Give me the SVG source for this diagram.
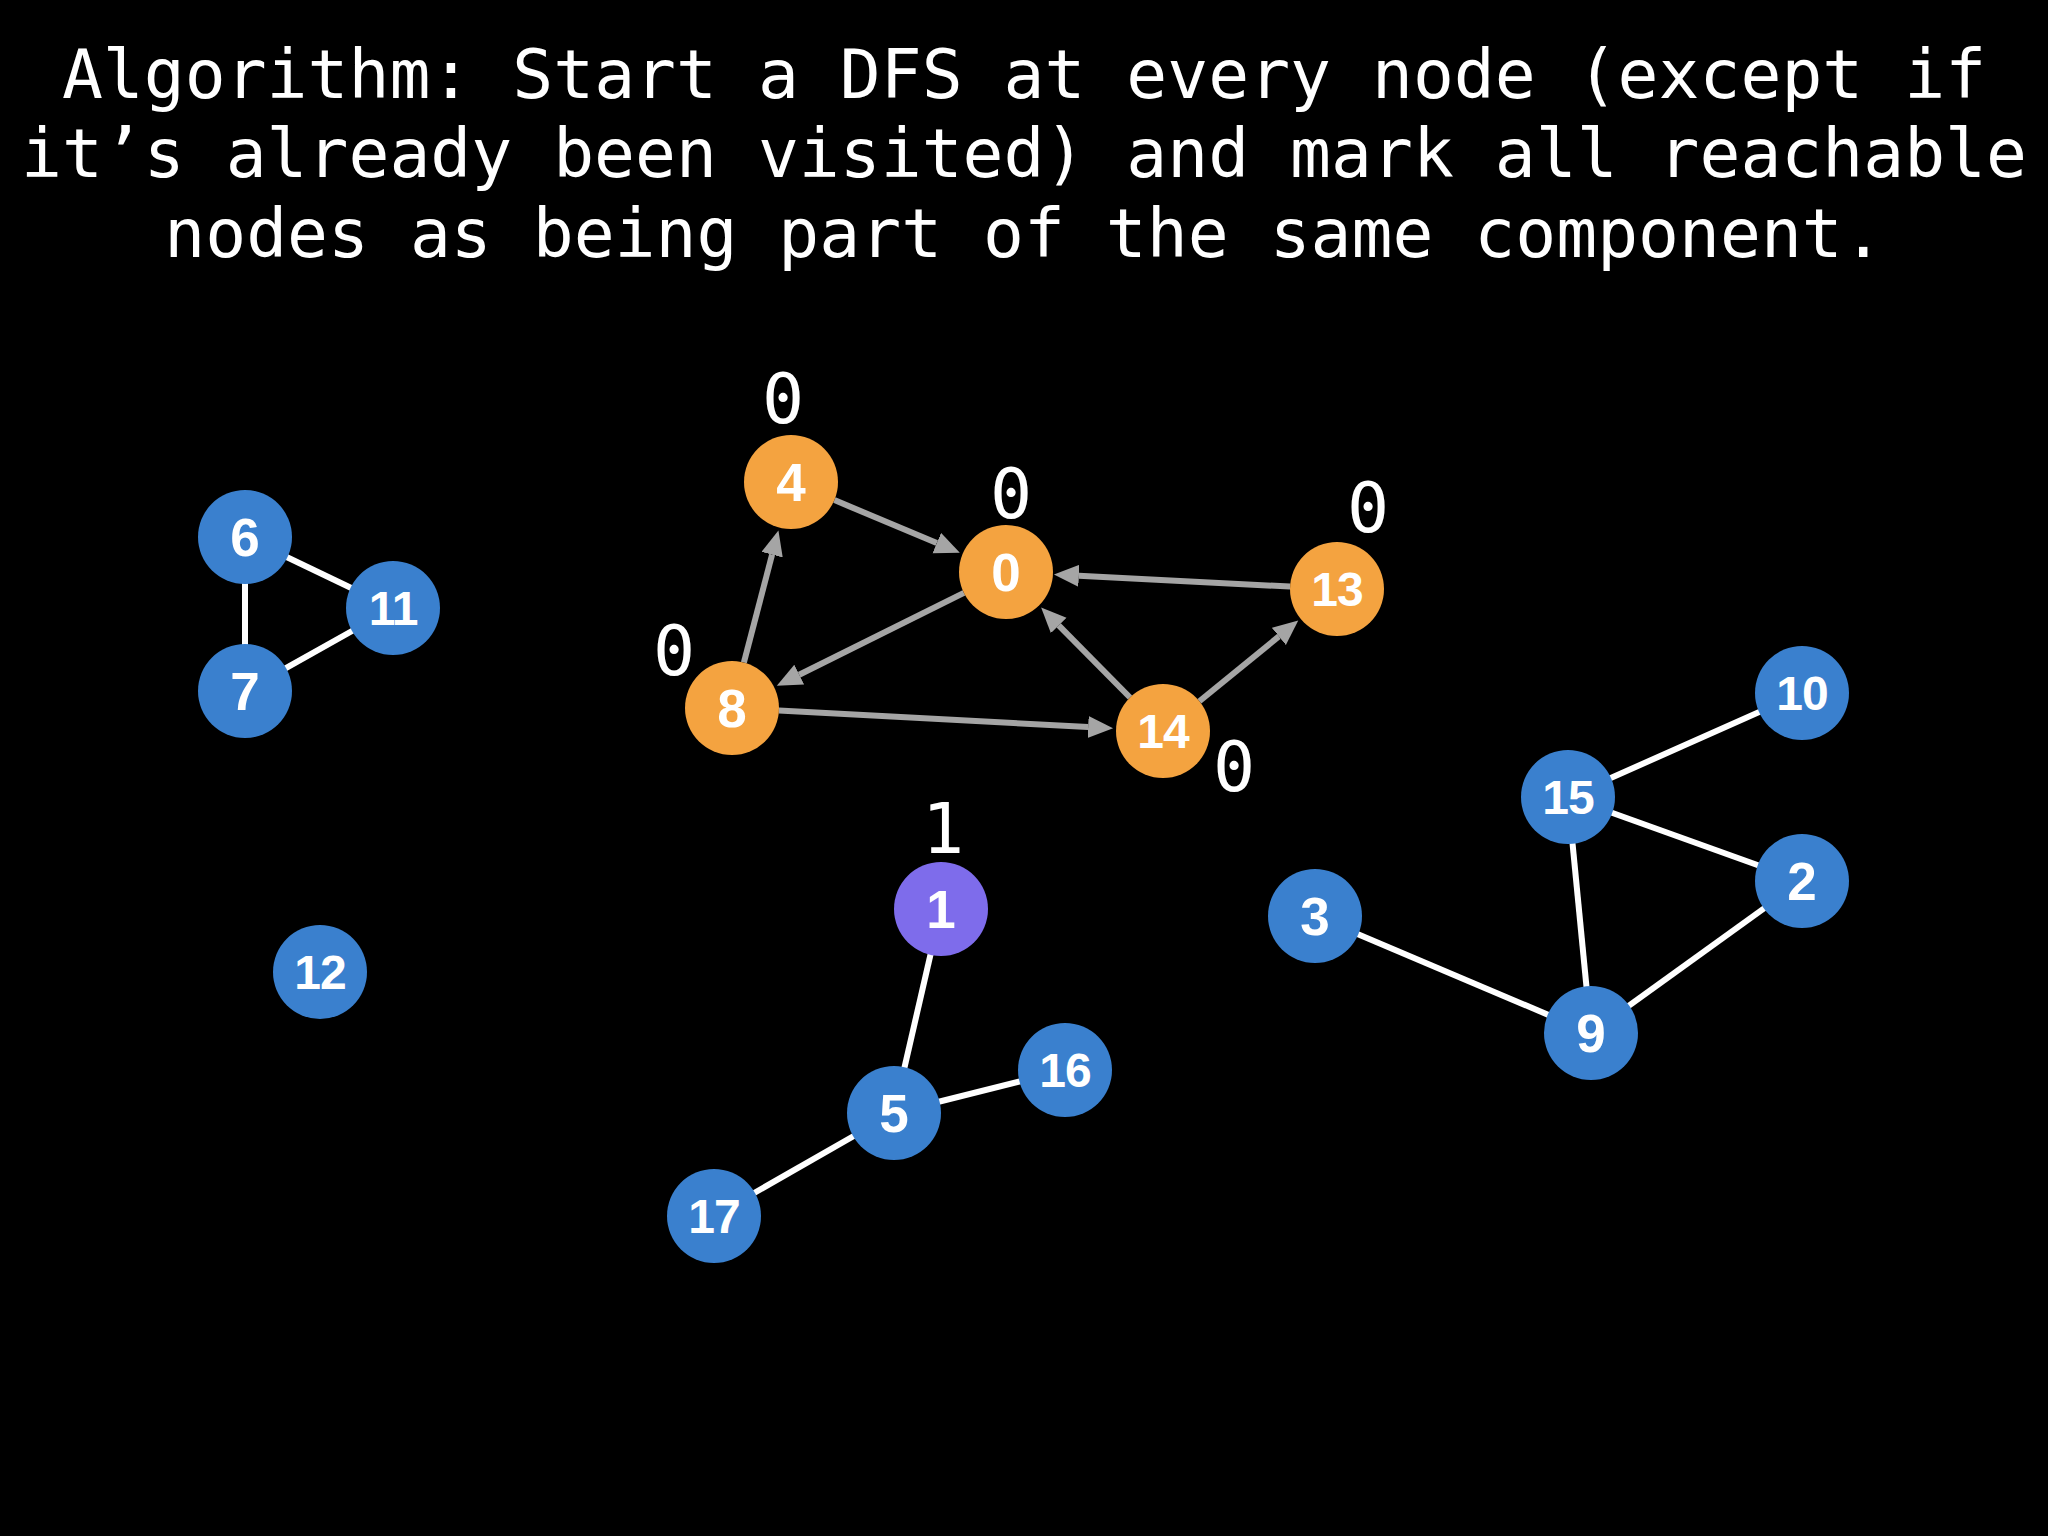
<svg xmlns="http://www.w3.org/2000/svg" width="2048" height="1536" viewBox="0 0 2048 1536">
<defs>
<marker id="ah" markerUnits="userSpaceOnUse" markerWidth="28" markerHeight="24" refX="0" refY="11" orient="auto">
<path d="M0,0 L25,11 L0,22 z" fill="#A5A5A5"/>
</marker>
<style>
.title{font-family:"DejaVu Sans Mono","Liberation Mono",monospace;font-size:68px;fill:#fff;text-anchor:middle}
.mark{font-family:"DejaVu Sans Mono","Liberation Mono",monospace;font-size:70px;fill:#fff;text-anchor:middle}
.lbl{font-family:"Liberation Sans",Arial,sans-serif;font-weight:bold;font-size:53px;fill:#fff;text-anchor:middle}
.lbl2{font-family:"Liberation Sans",Arial,sans-serif;font-weight:bold;font-size:48px;fill:#fff;text-anchor:middle;letter-spacing:-1px}
.blue{fill:#3A80CE}
.orange{fill:#F4A340}
.purple{fill:#7E6CEB}
.und{stroke:#fff;stroke-width:6;fill:none}
.dir{stroke:#A5A5A5;stroke-width:6;fill:none;marker-end:url(#ah)}
</style>
</defs>
<rect x="0" y="0" width="2048" height="1536" fill="#000"/>
<g id="title">
<text class="title" x="1024" y="98">Algorithm: Start a DFS at every node (except if</text>
<text class="title" x="1024" y="177">it’s already been visited) and mark all reachable</text>
<text class="title" x="1024" y="257">nodes as being part of the same component.</text>
</g>
<g id="connectors">
<line class="und" x1="245" y1="537" x2="393" y2="608"/>
<line class="und" x1="245" y1="537" x2="245" y2="691"/>
<line class="und" x1="245" y1="691" x2="393" y2="608"/>
<line class="und" x1="941" y1="909" x2="894" y2="1113"/>
<line class="und" x1="894" y1="1113" x2="1065" y2="1070"/>
<line class="und" x1="894" y1="1113" x2="714" y2="1216"/>
<line class="und" x1="1568" y1="797" x2="1802" y2="693"/>
<line class="und" x1="1568" y1="797" x2="1802" y2="881"/>
<line class="und" x1="1568" y1="797" x2="1591" y2="1033"/>
<line class="und" x1="1591" y1="1033" x2="1802" y2="881"/>
<line class="und" x1="1315" y1="916" x2="1591" y2="1033"/>
<line class="dir" x1="834.4" y1="500.1" x2="936.8" y2="543.0"/>
<line class="dir" x1="1290.1" y1="586.6" x2="1078.9" y2="575.7"/>
<line class="dir" x1="963.9" y1="592.9" x2="799.2" y2="674.7"/>
<line class="dir" x1="1130.0" y1="697.5" x2="1058.7" y2="625.4"/>
<line class="dir" x1="1199.4" y1="701.3" x2="1278.9" y2="636.4"/>
<line class="dir" x1="743.9" y1="662.5" x2="772.1" y2="554.6"/>
<line class="dir" x1="778.9" y1="710.5" x2="1088.1" y2="727.0"/>
</g>
<g id="node-0"><circle class="orange" cx="1006" cy="572" r="47"/><text class="lbl" x="1006" y="591">0</text><text class="mark" x="1011" y="518">0</text></g>
<g id="node-4"><circle class="orange" cx="791" cy="482" r="47"/><text class="lbl" x="791" y="501">4</text><text class="mark" x="783" y="423">0</text></g>
<g id="node-13"><circle class="orange" cx="1337" cy="589" r="47"/><text class="lbl2" x="1337" y="606">13</text><text class="mark" x="1368" y="532">0</text></g>
<g id="node-8"><circle class="orange" cx="732" cy="708" r="47"/><text class="lbl" x="732" y="727">8</text><text class="mark" x="674" y="675">0</text></g>
<g id="node-14"><circle class="orange" cx="1163" cy="731" r="47"/><text class="lbl2" x="1163" y="748">14</text><text class="mark" x="1234" y="791">0</text></g>
<g id="node-6"><circle class="blue" cx="245" cy="537" r="47"/><text class="lbl" x="245" y="556">6</text></g>
<g id="node-11"><circle class="blue" cx="393" cy="608" r="47"/><text class="lbl2" x="393" y="625">11</text></g>
<g id="node-7"><circle class="blue" cx="245" cy="691" r="47"/><text class="lbl" x="245" y="710">7</text></g>
<g id="node-12"><circle class="blue" cx="320" cy="972" r="47"/><text class="lbl2" x="320" y="989">12</text></g>
<g id="node-1"><circle class="purple" cx="941" cy="909" r="47"/><text class="lbl" x="941" y="928">1</text><text class="mark" x="943" y="853">1</text></g>
<g id="node-5"><circle class="blue" cx="894" cy="1113" r="47"/><text class="lbl" x="894" y="1132">5</text></g>
<g id="node-16"><circle class="blue" cx="1065" cy="1070" r="47"/><text class="lbl2" x="1065" y="1087">16</text></g>
<g id="node-17"><circle class="blue" cx="714" cy="1216" r="47"/><text class="lbl2" x="714" y="1233">17</text></g>
<g id="node-10"><circle class="blue" cx="1802" cy="693" r="47"/><text class="lbl2" x="1802" y="710">10</text></g>
<g id="node-15"><circle class="blue" cx="1568" cy="797" r="47"/><text class="lbl2" x="1568" y="814">15</text></g>
<g id="node-2"><circle class="blue" cx="1802" cy="881" r="47"/><text class="lbl" x="1802" y="900">2</text></g>
<g id="node-3"><circle class="blue" cx="1315" cy="916" r="47"/><text class="lbl" x="1315" y="935">3</text></g>
<g id="node-9"><circle class="blue" cx="1591" cy="1033" r="47"/><text class="lbl" x="1591" y="1052">9</text></g>
</svg>
